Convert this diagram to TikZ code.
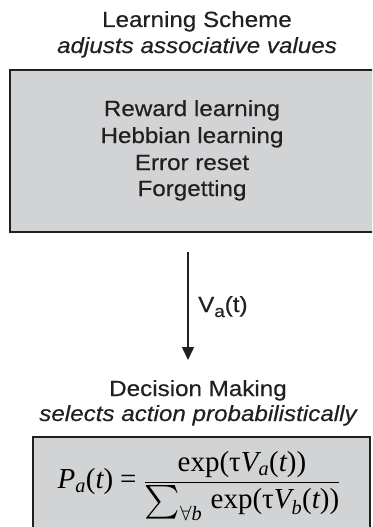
\documentclass[tikz,border=0pt]{standalone}
\usepackage{amsmath}
\usepackage{graphicx}
\usepackage{fontspec}
\setmainfont{Liberation Sans}[FakeStretch=1.1,FakeBold=0.4]
\newfontfamily\tms{Liberation Serif}
\usetikzlibrary{arrows.meta}
\definecolor{boxfill}{HTML}{D1D3D4}
\definecolor{boxline}{HTML}{231F20}
\newcommand\mitl[1]{\text{\tms\itshape #1}}
\newcommand\mrom[1]{\text{\tms #1}}
\newcommand\bigsum{\mathop{\vcenter{\hbox{\scalebox{1.35}{$\textstyle\sum$}}}}}
\begin{document}
\begin{tikzpicture}[x=1pt,y=-1pt,
  lbl/.style={font=\fontsize{22}{26}\selectfont, text=boxline, inner sep=0pt, align=center},
  panel/.style={draw=boxline, fill=boxfill, line width=1.6pt, inner sep=0pt},
  flow/.style={draw=boxline, line width=1.5pt, -{Triangle[width=12pt,length=13pt]}}]
\useasboundingbox (0,0) rectangle (372,527);
\clip (0,0) rectangle (372,527);
% top panel
\node[panel, minimum width=376pt, minimum height=162pt] (lsbox) at (198,151) {};
\node[lbl, anchor=base] (lstitle) at (197,27) {Learning Scheme};
\node[lbl, anchor=base] (lssub) at (197,53) {\itshape adjusts associative values};
\node[lbl, anchor=base] (l1) at (192,116) {Reward learning};
\node[lbl, anchor=base] (l2) at (192,143) {Hebbian learning};
\node[lbl, anchor=base] (l3) at (192,170) {Error reset};
\node[lbl, anchor=base] (l4) at (192,196) {Forgetting};
% arrow
\coordinate (astart) at (188,252);
\coordinate (aend) at (188,360);
\draw[flow] (astart) -- (aend);
\node[lbl, anchor=base west] (vlabel) at (198,312) {V\raisebox{-5pt}{\fontsize{17}{17}\selectfont a}(t)};
% bottom panel
\node[panel, minimum width=337pt, minimum height=120pt] (dmbox) at (201.5,497) {};
\node[lbl, anchor=base] (dmtitle) at (198,396) {Decision Making};
\node[lbl, anchor=base] (dmsub) at (198,421) {\itshape selects action probabilistically};
\node[inner sep=0pt, font=\fontsize{29}{33}\selectfont] (formula) at (199,486)
  {$\displaystyle \mitl{P}_{\mitl{a}}\mrom{(}\mitl{t}\mrom{)} \mathrel{\mrom{=}}
   \frac{\mrom{exp(τ}\mitl{V}_{\mitl{a}}\mrom{(}\mitl{t}\mrom{))}}
        {\bigsum\nolimits_{\forall \mitl{b}}\,\mrom{exp(τ}\mitl{V}_{\mitl{b}}\mrom{(}\mitl{t}\mrom{))}}$};
\end{tikzpicture}
\end{document}
